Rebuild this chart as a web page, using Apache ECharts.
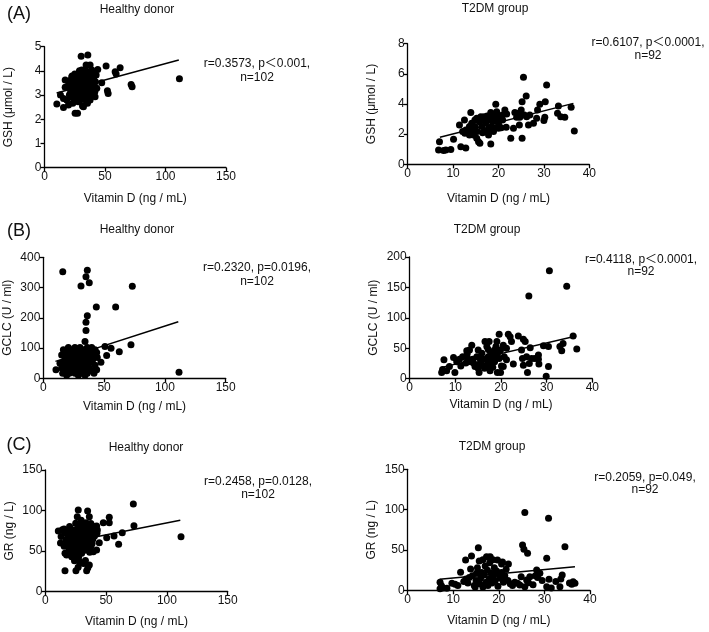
<!DOCTYPE html>
<html><head><meta charset="utf-8">
<script src="https://cdn.jsdelivr.net/npm/echarts@6/dist/echarts.min.js"></script>
<style>html,body{margin:0;padding:0;background:#fff}#c{width:709px;height:632px}</style>
</head><body><div id="c"></div>
<script>
// ---- Data ----
const hdGSH = [[10.2,2.63],[13.2,3.00],[15.7,2.49],[17.1,3.32],[17.1,3.62],[18.4,2.80],[19.8,2.59],[22.0,3.48],[22.6,3.76],[23.4,2.66],[25.3,2.25],[27.3,2.25],[30.3,4.61],[35.8,4.66],[32.2,2.52],[29.5,2.80],[33.6,4.04],[30.8,4.04],[34.4,4.24],[37.7,4.24],[39.1,4.04],[44.0,4.06],[50.9,4.20],[58.4,3.97],[62.5,4.13],[59.2,3.87],[47.3,3.51],[52.0,3.18],[52.6,3.07],[71.6,3.44],[72.4,3.35],[111.5,3.68],[41.8,2.93],[43.2,3.28],[40.5,3.62],[37.7,2.80],[35.5,2.93],[31.4,2.55],[21.2,3.07],[15.7,2.86],
[19.8,3.42],[21.2,3.28],[21.7,3.62],[23.4,3.21],[23.9,3.42],[24.5,3.55],[25.3,3.00],[26.1,3.35],[26.7,3.69],[27.3,3.14],[28.1,3.48],[28.4,2.93],[28.9,3.83],[29.5,3.28],[30.0,3.55],[30.6,3.07],[31.1,3.69],[31.7,3.37],[32.2,3.21],[32.8,3.76],[33.3,3.48],[33.6,3.00],[34.1,3.32],[34.7,3.62],[35.0,3.83],[35.5,3.18],[36.1,3.48],[36.6,3.69],[36.9,3.32],[37.2,3.07],[37.7,3.55],[38.3,3.79],[38.8,3.28],[39.4,3.48],[39.9,3.00],[40.5,3.73],[41.0,3.37],[41.6,3.14],[42.1,3.55],[42.7,3.83],[25.6,2.80],[27.8,2.73],[30.6,2.87],[33.9,2.80],[35.5,2.66],[28.9,4.01],[31.7,3.90],[36.1,3.97],[39.9,3.90],[20.6,3.00],[22.8,3.79],[25.0,3.87],[26.7,2.93],[29.5,3.07],[32.8,2.87],[36.6,2.91],[38.8,3.62],[26.1,3.51],[28.4,3.24],[34.4,3.10],[31.1,3.24],[22.3,2.91]];
const hdGSHFit = [[10,3.09],[111,4.45]];

const dmGSH = [[7.0,1.50],[6.8,0.95],[7.9,0.91],[8.4,0.95],[9.5,0.99],[10.1,1.66],[11.4,2.61],[11.7,1.17],[12.8,1.08],[12.5,2.94],[13.9,3.43],[12.6,2.06],[12.8,2.28],[13.6,2.50],[13.4,2.10],[14.1,2.17],[14.5,1.94],[14.3,2.39],[14.8,2.50],[15.2,3.05],[15.3,2.17],[15.2,1.72],[15.6,1.50],[15.9,1.39],[15.8,2.83],[16.1,3.16],[16.3,2.50],[16.5,2.10],[16.8,3.16],[17.0,2.17],[17.2,2.76],[17.5,3.20],[17.8,2.39],[18.0,2.94],[18.1,3.16],[18.3,1.35],[18.5,2.39],[18.7,2.83],[18.9,3.20],[19.1,2.39],[19.3,3.27],[19.4,3.98],[19.6,3.49],[19.7,2.98],[20.0,2.39],[20.3,3.20],[20.6,2.43],[20.9,2.94],[21.4,3.60],[21.7,2.45],[21.8,3.34],[22.7,1.72],[23.6,3.43],[24.0,3.12],[24.6,2.61],[24.7,3.12],[25.0,3.60],[25.2,1.72],[25.2,4.15],[25.5,5.77],[26.1,4.53],[25.7,3.27],[26.2,3.16],[26.6,2.61],[26.9,3.27],[28.4,3.05],[28.6,3.60],[29.1,3.98],[30.0,2.90],[30.2,3.12],[30.3,4.15],[30.6,5.26],[33.2,3.87],[33.0,3.38],[33.7,3.16],[34.6,3.12],[36.0,3.78],[36.7,2.21],[17.4,2.23],[17.8,1.94],[14.8,2.94],[14.1,2.72],[13.6,1.94],[18.9,2.17],[20.0,2.67],[23.3,2.39],[24.4,3.38],[16.4,2.94],[18.3,3.43],[20.9,3.27],[12.1,2.17],[27.7,2.72]];
const dmGSHFit = [[7.1,1.79],[36.5,4.04]];

const hdGCLC = [[16.0,352],[36.2,357],[35.1,336],[37.8,316],[31.0,305],[73.2,304],[43.6,236],[59.5,236],[36.2,207],[35.1,185],[35.1,158],[34.3,122],[72.1,111],[50.7,105],[55.7,99],[52.1,75],[62.5,88],[47.4,53],[111.6,20],[10.4,28],[13.7,50],[43.9,28],
[20.6,102],[26.0,102],[30.2,102],[36.2,102],[39.8,102],[16.5,94],[23.3,94],[28.8,94],[32.9,94],[37.8,94],[42.5,94],[19.2,85],[24.7,85],[27.4,85],[31.5,85],[35.1,85],[39.8,85],[43.9,85],[15.1,77],[21.9,77],[29.6,77],[33.4,77],[37.0,77],[41.1,77],[17.8,69],[26.0,69],[30.7,69],[35.1,69],[38.4,69],[44.4,69],[20.6,61],[24.1,61],[28.0,61],[32.4,61],[36.2,61],[40.6,61],[16.5,52],[22.5,52],[26.9,52],[31.5,52],[34.3,52],[38.4,52],[18.6,43],[25.2,43],[29.6,43],[35.6,43],[42.5,43],[15.1,34],[20.6,34],[27.4,34],[32.9,34],[37.8,34],[17.8,25],[23.3,25],[29.6,25],[35.1,25],[39.8,25],[15.9,17],[21.4,17],[26.0,17],[31.5,17],[36.2,17],[41.7,17],[19.2,10],[28.8,10],[34.3,10],[22.0,88],[25.0,80],[28.0,90],[30.5,82],[33.8,75],[36.8,90],[24.0,72],[27.0,66],[29.0,58],[31.0,70],[34.0,64],[19.5,74],[22.8,47],[26.5,30]];
const hdGCLCFit = [[10,56],[111,187]];

const dmGCLC = [[30.6,177.5],[34.4,152],[26.1,136],[21.6,73],[19.6,73],[22.0,69],[23.8,70],[24.9,65],[25.3,61],[35.8,70],[36.6,49],[32.9,53],[33.3,46],[33.6,58],[29.3,54],[30.4,53],[28.2,39],[28.2,32],[28.3,24],[30.4,20],[29.9,4],[26.2,25],[25.8,10],[24.9,22],[22.7,24],[20.1,21],[19.9,10],[19.2,10],[17.6,13],[15.2,10],[7.0,10],[7.2,15],[7.5,31],[8.1,13],[9.9,10],[9.6,35],[11.6,36],[11.2,21],[12.5,46],[12.6,41],[12.7,33],[13.6,55],[13.4,28],[14.0,26],[14.7,36],[15.0,47],[15.4,25],[15.8,42],[16.1,32],[16.5,61],[16.9,53],[17.2,36],[17.4,61],[17.7,44],[18.0,32],[18.3,36],[18.6,47],[18.9,53],[19.2,40],[19.6,33],[20.5,55],[20.7,36],[21.2,50],[24.5,47],[24.7,33],[25.6,36],[26.4,51],[26.7,33],[20.5,20],[14.3,20],[13.8,32],[15.0,17],[16.0,22],[16.9,21],[17.9,25],[18.6,28],[19.1,61],[19.9,47],[22.3,61],[12.3,26],[10.9,32],[10.3,28],[8.7,20],[16.4,17],[17.1,30],[18.2,19],[15.4,33],[13.1,47],[27.4,33],[17.2,48],[18.3,42],[21.2,31]];
const dmGCLCFit = [[7,18.6],[36.5,70]];

const hdGR = [[10.7,74.8],[15.4,77.3],[16.2,47.3],[16.2,25.9],[27.1,100.7],[34.8,99.5],[26.3,92.5],[36.2,92.5],[52.6,91.7],[47.7,85.1],[52.6,85.1],[72.4,108.1],[72.9,81.4],[63.3,72.7],[56.5,68.6],[50.5,66.6],[60.3,58.4],[44.4,60.4],[111.6,67.8],[25.2,25.9],[34.0,25.9],[31.3,34.9],[36.2,32.9],[25.8,41.1],[29.9,47.3],[34.5,51.4],[39.5,49.3],[42.2,51.4],[17.5,45.2],[21.7,43.2],[40.0,69.9],[42.2,81.0],[42.8,76.0],
[25.0,84.5],[30.0,83.5],[33.5,85],[37.5,84],[20.0,80.5],[27.0,79.5],[31.5,80],[35.0,81],[38.5,79],[41.0,80.5],[14.0,76.5],[18.5,75.5],[23.5,76],[28.5,77],[33.0,75],[36.0,76.5],[39.5,75.5],[16.0,72.5],[21.0,71.5],[25.5,72],[30.0,73],[32.5,71],[35.5,72.5],[38.0,71.5],[42.5,72],[13.0,68],[19.0,67.5],[22.5,68.5],[27.5,67],[31.0,69],[34.0,68],[37.0,67.5],[40.5,68.5],[17.0,64],[21.5,63.5],[24.0,64.5],[26.5,63],[29.0,65],[33.5,64],[36.5,63.5],[39.0,64.5],[12.5,60],[18.0,59.5],[23.0,60.5],[28.0,59],[31.5,61],[35.0,60],[38.5,59.5],[15.5,56],[20.5,55.5],[25.0,56.5],[30.5,55],[34.0,57],[37.5,56],[19.5,52],[24.5,51.5],[28.5,52.5],[32.0,51],[21.0,48],[26.0,47.5],[36.5,48.5],[23.5,44],[27.5,43.5],[24.0,38],[28.0,37.5],[33.0,38.5],[27.0,30],[35.0,29.5],[29.5,88]];
const hdGRFit = [[10.7,58.5],[111,88]];

const dmGR = [[25.7,96.3],[30.9,89.3],[34.5,54.1],[30.5,39.7],[25.2,56.2],[25.5,50.8],[26.3,45.9],[15.5,52.9],[14.0,42.6],[12.7,37.6],[15.7,36.4],[17.3,41.7],[17.8,40.9],[18.1,41.7],[19.7,37.6],[20.6,32.6],[22.1,32.6],[11.6,22.3],[13.8,26.4],[15.1,21.1],[28.3,25.2],[29.0,21.1],[31.0,13.6],[33.6,14.0],[33.9,19.0],[33.4,4.5],[30.5,4.5],[36.3,10.7],[36.7,8.7],[36.0,7.4],[24.9,16.9],[24.6,6.6],[25.7,4.5],[26.5,9.5],[26.8,16.9],[26.1,12.8],[24.1,8.7],[7.1,10.0],[7.4,5.5],[7.8,3.0],[7.1,2.0],[8.6,2.5],[9.7,8.7],[10.4,7.4],
[12.3,11],[12.8,14],[13.2,9],[13.5,16],[14.2,18],[14.6,6],[15.0,12],[15.3,28],[15.8,8],[16.0,15],[16.2,22],[16.5,4],[16.8,19],[17.0,30],[17.2,10],[17.5,25],[17.6,6],[17.9,14],[18.0,34],[18.3,21],[18.5,9],[18.8,18],[19.0,28],[19.2,12],[19.5,24],[19.8,5],[20.0,20],[20.3,15],[20.6,22],[21.0,10],[21.3,18],[21.6,26],[22.0,12],[22.5,8],[23.0,6],[23.5,10],[27.5,7],[28.5,16],[29.5,12],[28.0,18],[31.5,3],[32.5,11],[35.5,9],[16.5,38],[18.7,38],[20.8,35],[14.8,4],[11.0,6]];
const dmGRFit = [[7,13.6],[36.7,29.3]];

const xTitle = 'Vitamin D (ng / mL)';
const yTitles = ['GSH (μmol / L)', 'GSH (μmol / L)', 'GCLC (U / ml)', 'GCLC (U / ml)', 'GR (ng / L)', 'GR (ng / L)'];
const yMaxes = [5, 8, 400, 200, 150, 150];
const yIntervals = [1, 2, 100, 50, 50, 50];
const xMaxes = [150, 40, 150, 40, 150, 40];
const xIntervals = [50, 10, 50, 10, 50, 10];
const groupTitles = ['Healthy donor', 'T2DM group'];
const statLine1 = ['r=0.3573, p\uFF1C0.001,', 'r=0.6107, p\uFF1C0.0001,', 'r=0.2320, p=0.0196,', 'r=0.4118, p\uFF1C0.0001,', 'r=0.2458, p=0.0128,', 'r=0.2059, p=0.049,'];
const statLine2 = ['n=102', 'n=92', 'n=102', 'n=92', 'n=102', 'n=92'];
const panelLabels = ['(A)', '(B)', '(C)'];

const pointSets = [hdGSH, dmGSH, hdGCLC, dmGCLC, hdGR, dmGR];
const fitSets = [hdGSHFit, dmGSHFit, hdGCLCFit, dmGCLCFit, hdGRFit, dmGRFit];

// ---- Layout ----
const FONT = '"Liberation Sans", Arial, "Noto Sans CJK SC", sans-serif';
const grids = [
  {left: 44.5, top: 46.7, width: 181.5, height: 121},
  {left: 407.7, top: 43.7, width: 181.6, height: 120.6},
  {left: 43.3, top: 257.3, width: 182.4, height: 121},
  {left: 409.7, top: 257, width: 182.6, height: 121.7},
  {left: 45.3, top: 470, width: 182.4, height: 121.7},
  {left: 407.7, top: 469.3, width: 182.3, height: 121}
];
const xNameGaps = [25, 28, 22, 20, 24, 24];
const yNameGaps = [30, 30, 30, 30, 30, 30];
const titlePos = [[137, 10], [495, 9], [137, 230], [487, 230], [146, 448], [492, 447]];
const statPos = [[257, 64, 78], [648, 43, 56], [257, 268, 282], [641, 260, 272], [258, 482, 495], [645, 478, 490]];
const labelPos = [[19, 14], [19, 231], [19, 445]];

const axisCommon = {
  axisLine: {show: true, onZero: false, lineStyle: {color: '#000', width: 1.3}},
  axisTick: {show: true, inside: false, length: 4, lineStyle: {color: '#000', width: 1.3}},
  axisLabel: {color: '#111', fontSize: 12, fontFamily: FONT, margin: 3},
  splitLine: {show: false},
  nameTextStyle: {color: '#111', fontSize: 12, fontFamily: FONT},
  nameLocation: 'middle'
};

const xAxes = [], yAxes = [], series = [], graphics = [];
for (let i = 0; i < 6; i++) {
  xAxes.push(Object.assign({}, axisCommon, {
    gridIndex: i, type: 'value', min: 0, max: xMaxes[i], interval: xIntervals[i],
    name: xTitle, nameGap: xNameGaps[i]
  }));
  yAxes.push(Object.assign({}, axisCommon, {
    gridIndex: i, type: 'value', min: 0, max: yMaxes[i], interval: yIntervals[i],
    name: yTitles[i], nameGap: yNameGaps[i]
  }));
  series.push({
    type: 'scatter', xAxisIndex: i, yAxisIndex: i, data: pointSets[i],
    symbol: 'circle', symbolSize: 7, itemStyle: {color: '#000', opacity: 1}, silent: true
  });
  series.push({
    type: 'line', xAxisIndex: i, yAxisIndex: i, data: fitSets[i],
    symbol: 'none', lineStyle: {color: '#000', width: 1.5}, silent: true, z: 3
  });
  graphics.push({type: 'text', x: titlePos[i][0], y: titlePos[i][1],
    style: {text: groupTitles[i % 2], font: '12px ' + FONT, fill: '#111', textAlign: 'center', textVerticalAlign: 'middle'}});
  graphics.push({type: 'text', x: statPos[i][0], y: statPos[i][1],
    style: {text: statLine1[i], font: '12px ' + FONT, fill: '#111', textAlign: 'center', textVerticalAlign: 'middle'}});
  graphics.push({type: 'text', x: statPos[i][0], y: statPos[i][2],
    style: {text: statLine2[i], font: '12px ' + FONT, fill: '#111', textAlign: 'center', textVerticalAlign: 'middle'}});
}
for (let k = 0; k < 3; k++) {
  graphics.push({type: 'text', x: labelPos[k][0], y: labelPos[k][1],
    style: {text: panelLabels[k], font: '18px ' + FONT, fill: '#111', textAlign: 'center', textVerticalAlign: 'middle'}});
}

const chart = echarts.init(document.getElementById('c'), null, {renderer: 'canvas'});
chart.setOption({
  animation: false,
  backgroundColor: '#fff',
  grid: grids.map(g => Object.assign({containLabel: false}, g)),
  xAxis: xAxes,
  yAxis: yAxes,
  series: series,
  graphic: graphics
});
</script>
</body></html>
